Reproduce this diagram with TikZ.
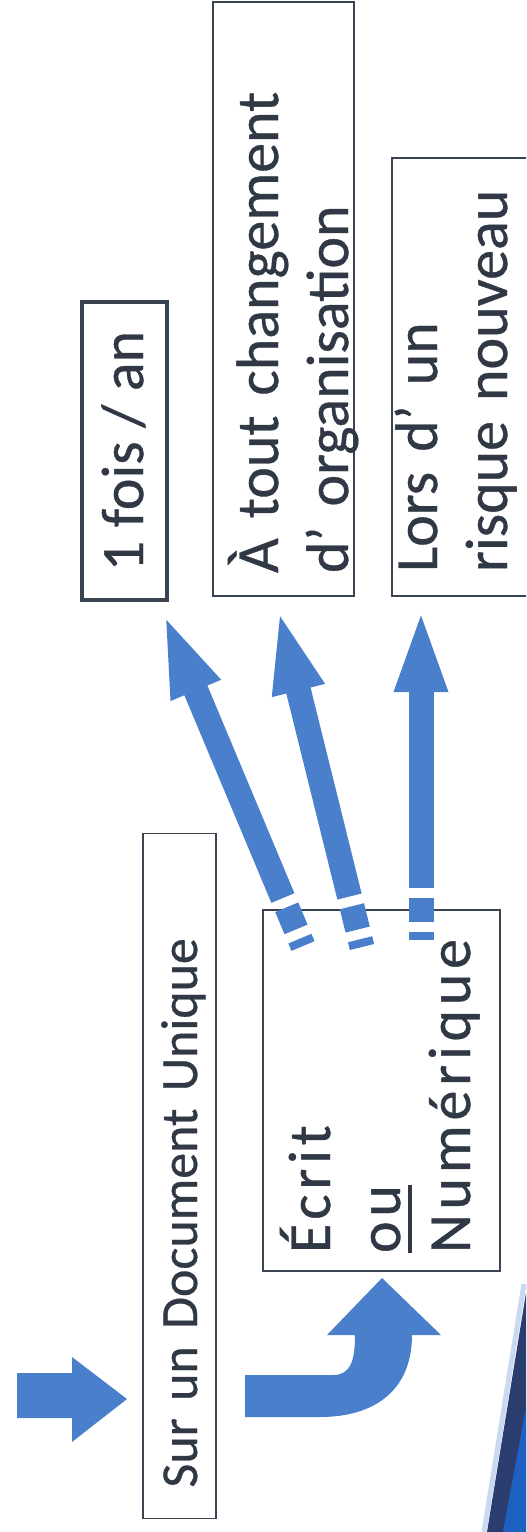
\documentclass[tikz,border=0pt]{standalone}
\usepackage{fontspec}
\setmainfont{Carlito}[FakeBold=0.6]
\newfontfamily\spacedfont[LetterSpace=8,FakeBold=0.6]{Carlito}
\usetikzlibrary{arrows.meta}
\definecolor{arrowblue}{HTML}{4A7FCC}
\definecolor{framegray}{HTML}{3A4350}
\definecolor{inkgray}{HTML}{2F3844}
\definecolor{navyband}{HTML}{2A3D6E}
\definecolor{slideblue}{HTML}{1E5FC2}
\definecolor{glint}{HTML}{C9DAF0}
\newcommand{\ulword}[1]{\leavevmode\setbox0\hbox{#1}\rlap{\rule[-6pt]{\wd0}{1.8pt}}\box0}

\begin{document}
\begin{tikzpicture}
[x=0.5pt, y=-0.5pt,
 framebox/.style={draw=framegray, line width=0.7pt, rotate=90, text=inkgray,
   align=left, inner ysep=0pt, font=\fontsize{30}{35}\selectfont},
 riser/.style={draw=arrowblue, line width=12.5pt,
   dash pattern=on 4pt off 5pt on 12pt off 5pt on 1000pt,
   -{Triangle[width=23.5pt,length=42.5pt]}}]
\useasboundingbox (0,0) rectangle (526,1532);
\clip (0,0) rectangle (526,1532);

%% corner of the slide background
\fill [navyband] (526,1293) -- (487,1532) -- (526,1532) -- cycle;
\fill [slideblue] (526,1407) -- (503,1532) -- (526,1532) -- cycle;
\draw [glint, line width=2.5pt] (524,1284) -- (484,1532);

%% when the document is updated
\node (onceyear) at (124.5,451) [framebox, line width=2pt, align=center,
  minimum width=149pt, text height=30.5pt, text depth=12pt] {1 fois / an};
\node (orgchange) at (283.5,299) [framebox, text width=274pt, inner xsep=11.5pt,
  text height=32.5pt, text depth=38pt] {À tout changement\\d’ organisation};
\node (newrisk) at (461,377) [framebox, text width=195pt, inner xsep=12pt,
  text height=22.5pt, text depth=46.5pt] {Lors d’ un\\risque nouveau};

%% what the document is
\node (singledoc) at (179.5,1176) [framebox, font=\fontsize{26}{31}\selectfont,
  text width=311.5pt, inner xsep=15.5pt, text height=27pt, text depth=9.5pt]
  {Sur un Document Unique};
\node (medium) at (381.5,1090.5) [framebox, font=\spacedfont\fontsize{30}{35}\selectfont,
  text width=162.5pt, inner xsep=9pt, text height=33.5pt, text depth=85pt]
  {Écrit\\\ulword{ou}\\Numérique};

%% block arrows
\fill [arrowblue] (17,1373) -- (72,1373) -- (72,1357) -- (127,1399)
  -- (72,1442) -- (72,1418) -- (17,1418) -- cycle;
\fill [arrowblue] (245,1417) -- (320,1417) .. controls (375,1417) and (412,1390) .. (412,1335)
  -- (441,1335) -- (382,1278) -- (327,1335) -- (355,1335)
  .. controls (355,1362) and (350,1375) .. (333,1375) -- (245,1375) -- cycle;

%% arrows out of the medium box
\foreach \name/\x/\y in {tail1/303/946, tip1/163/612, tail2/362/947,
  tip2/278/608, tail3/421/940, tip3/421/607}
  \coordinate (\name) at (\x,\y);
\foreach \n in {1,2,3}
  \draw [riser] (tail\n) -- (tip\n);
\end{tikzpicture}
\end{document}
